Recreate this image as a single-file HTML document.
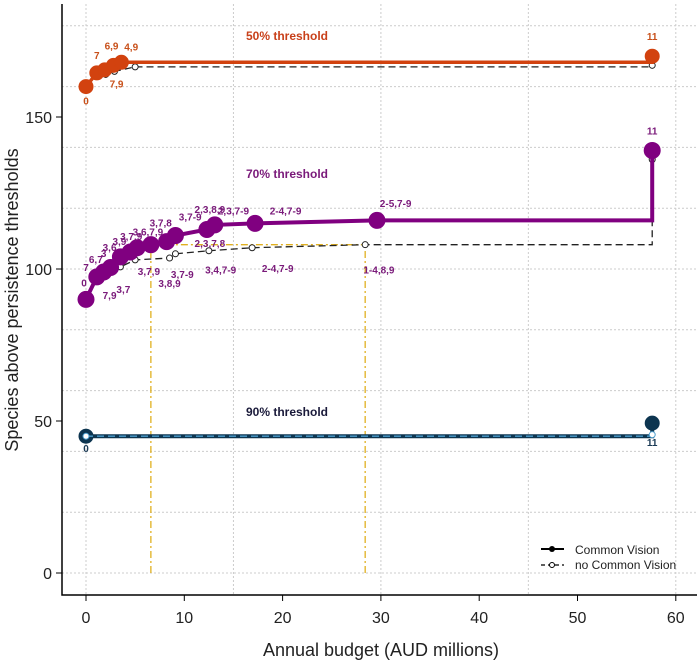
<!DOCTYPE html>
<html><head><meta charset="utf-8"><style>
body{margin:0;background:#fff;}
svg{display:block;font-family:"Liberation Sans",sans-serif;}
</style></head><body>
<svg id="chart" width="700" height="668">
<g id="grid"></g>
<g id="axes"></g>
<g id="marks"></g>
<g id="labels"></g>
</svg>
<script>
const xTicks=[0,10,20,30,40,50,60];
const yTicks=[0,50,100,150];
const xGrid=[0,15,30,45,60];
const yGrid=[0,20,40,60,80,100,120,140,160,180];
// 50% threshold
const s50x=[0,1.1,1.9,2.8,3.6,57.6];
const s50y=[160,164.5,165.5,167,168,170];
const d50x=[0,1.1,2,2.9,5,57.6];
const d50y=[160,163.5,164,165,166.5,167];
// 70% threshold
const s70x=[0,1.1,1.8,2.5,3.5,4.5,5.2,6.6,8.2,9.1,12.3,13.1,17.2,29.6,57.6];
const s70y=[90,97.4,99,100.5,104,105.6,107,108,109,111,113,114.5,115,116,139];
const d70x=[0,1.1,1.8,2.5,3.5,5,8.5,9.1,12.5,16.9,28.4,57.6];
const d70y=[90,97.4,99,100.5,100.7,103,103.6,105,106,107,108,136];
// 90% threshold
const s90x=[0,57.6];
const s90y=[45,49.3];
const d90x=[0,57.6];
const d90y=[45,45.5];
const refX=[6.6,28.4];
const refY=108;
const lab50=[["0",0,160,0,18],["7",1.1,164.5,0,-14],["6,9",2.6,167,0,-16],["7,9",2.8,165,3,16],["4,9",4.6,168,0,-12],["11",57.6,170,0,-16]];
const lab70=[["0",0,90,-2,-13],["7",0,97.4,0,-6],["6,7",1,100,0,-6],["3",1.8,102,0,-6],["3,6",2.4,104,0,-6],["3,9",3.4,106,0,-6],["3,7,9",4.6,107.5,0,-6],["3,6,7,9",6.3,109,0,-6],["3,7,8",7.6,112,0,-6],["3,7-9",10.6,114,0,-6],["2,3,8,9",12.6,116.5,0,-6],["2,3,7-9",15,116,0,-6],["2-4,7-9",20.3,116,0,-6],["2-5,7-9",31.5,118.5,0,-6],["11",57.6,139,0,-16],
["7,9",2.4,97.4,0,22],["3,7",3.8,98,0,18],["3,7,9",6.4,103,0,15],["3,8,9",8.5,99,0,15],["3,7-9",9.8,102,0,15],["3,4,7-9",13.7,103.5,0,15],["2,3,7,8",12.6,106.5,0,-2],["2-4,7-9",19.5,104,0,15],["1-4,8,9",29.8,103.5,0,15]];
const lab90=[["0",0,45,0,16],["11",57.6,49,0,22]];

const NS="http://www.w3.org/2000/svg";
const X=v=>86+v*9.83, Y=v=>573-v*3.04;
function mk(t,p,a){const e=document.createElementNS(NS,t);for(const k in a)e.setAttribute(k,a[k]);p.appendChild(e);return e;}
const G=document.getElementById('grid'),A=document.getElementById('axes'),M=document.getElementById('marks'),L=document.getElementById('labels');
xGrid.forEach(v=>{const l=mk('line',G,{x1:X(v),x2:X(v),y1:4,y2:595,stroke:'#ccc','stroke-dasharray':'2,2'});

});
yGrid.forEach(v=>{const l=mk('line',G,{x1:62,x2:697,y1:Y(v),y2:Y(v),stroke:'#ccc','stroke-dasharray':'2,2'});

});
const box=mk('path',A,{d:'M62,4 V595 H697',fill:'none',stroke:'#000','stroke-width':1.5});


xTicks.forEach(v=>{mk('line',A,{x1:X(v),x2:X(v),y1:595,y2:601,stroke:'#000'});
const t=mk('text',A,{x:X(v),y:623,'text-anchor':'middle','font-size':16,fill:'#222'});t.textContent=v;

});
yTicks.forEach(v=>{mk('line',A,{x1:56,x2:62,y1:Y(v),y2:Y(v),stroke:'#000'});
const t=mk('text',A,{x:52,y:Y(v)+6,'text-anchor':'end','font-size':16,fill:'#222'});t.textContent=v;

});
const xt=mk('text',A,{x:381,y:656,'text-anchor':'middle','font-size':18,fill:'#222'});xt.textContent='Annual budget (AUD millions)';


const yt=mk('text',A,{x:0,y:0,'text-anchor':'middle','font-size':18,fill:'#222',transform:'translate(18,300) rotate(-90)'});yt.textContent='Species above persistence thresholds';


// reference lines
const yc='#e0b020';
refX.forEach(v=>{const l=mk('line',M,{x1:X(v),x2:X(v),y1:Y(0),y2:Y(refY),stroke:yc,'stroke-width':1.3,'stroke-dasharray':'7,3,2,3'});

});
const rh=mk('line',M,{x1:X(refX[0]),x2:X(refX[1]),y1:Y(refY),y2:Y(refY),stroke:yc,'stroke-width':1.3,'stroke-dasharray':'7,3,2,3'});


function step(xs,ys){let d='M'+X(xs[0])+','+Y(ys[0]);for(let i=1;i<xs.length;i++){if(i==xs.length-1)d+=' L'+X(xs[i])+','+Y(ys[i-1])+' L'+X(xs[i])+','+Y(ys[i]);else d+=' L'+X(xs[i])+','+Y(ys[i]);}return d;}
function series(xs,ys,col,name,dashed,r,fill,w){
const p=mk('path',M,{d:step(xs,ys),fill:'none',stroke:col,'stroke-width':w,'stroke-dasharray':dashed?'7,4':'none'});


xs.forEach((x,i)=>{const c=mk('circle',M,{cx:X(x),cy:Y(ys[i]),r:r,fill:fill,stroke:col,'stroke-width':1});

});}
series(d50x,d50y,'#222','no-vision-50',true,3,'#fff',1.3);
series(s50x,s50y,'#d2420f','vision-50',false,7,'#d2420f',3.5);
series(d70x,d70y,'#222','no-vision-70',true,3,'#fff',1.3);
series(s70x,s70y,'#800080','vision-70',false,8,'#800080',4);
series(s90x,s90y,'#0d3550','vision-90',false,7,'#0d3550',4);
series(d90x,d90y,'#4a9ccc','no-vision-90',true,3,'#fff',1.3);
function labs(arr,col,name){arr.forEach(a=>{const t=mk('text',L,{x:X(a[1])+a[3],y:Y(a[2])+a[4],'text-anchor':'middle','font-size':10,'font-weight':'bold',fill:col});t.textContent=a[0];

});}
labs(lab50,'#c8501a','label-50');labs(lab70,'#7a1a7a','label-70');labs(lab90,'#1a3a55','label-90');
[['50% threshold',287,40,'#c8401a'],['70% threshold',287,178,'#7a1a7a'],['90% threshold',287,416,'#1a1a3a']].forEach(a=>{const t=mk('text',L,{x:a[1],y:a[2],'text-anchor':'middle','font-size':12,'font-weight':'bold',fill:a[3]});t.textContent=a[0];

});
// legend
const lg=mk('g',L,{});


mk('line',lg,{x1:541,x2:564,y1:549,y2:549,stroke:'#000','stroke-width':2});
mk('circle',lg,{cx:552,cy:549,r:3,fill:'#000'});
mk('line',lg,{x1:541,x2:564,y1:565,y2:565,stroke:'#000','stroke-width':1.2,'stroke-dasharray':'4,3'});
mk('circle',lg,{cx:552,cy:565,r:2.5,fill:'#fff',stroke:'#000'});
const l1=mk('text',lg,{x:575,y:554,'font-size':12,fill:'#222'});l1.textContent='Common Vision';


const l2=mk('text',lg,{x:575,y:569,'font-size':12,fill:'#222'});l2.textContent='no Common Vision';


</script>
</body></html>
